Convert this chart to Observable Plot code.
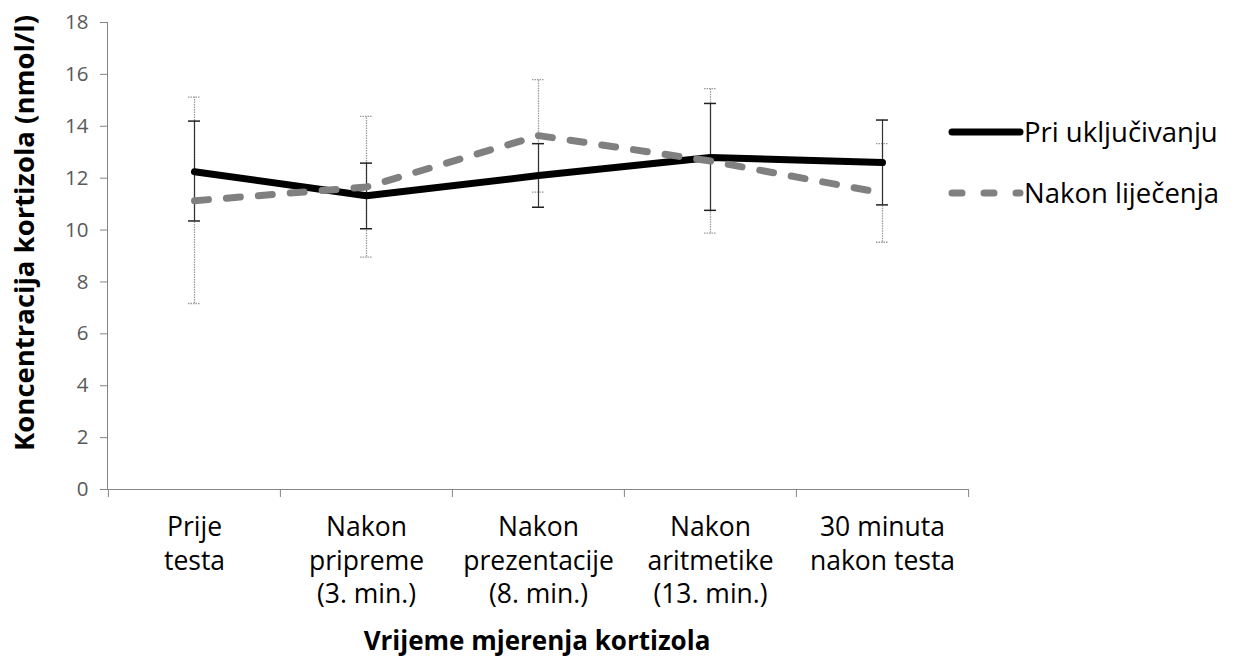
<!DOCTYPE html>
<html>
<head>
<meta charset="utf-8">
<script src="https://cdn.jsdelivr.net/npm/d3@7"></script>
<script src="https://cdn.jsdelivr.net/npm/@observablehq/plot@0.6"></script>
<style>
  html, body { margin: 0; padding: 0; background: #fff; }
  #wrap { position: relative; width: 1238px; height: 666px; font-family: "Open Sans", sans-serif; }
  #wrap svg.plot { position: absolute; left: 0; top: 0; }
  g[aria-label^="y-axis"] text { fill: #595959; }
  .ytitle { position: absolute; width: 520px; left: -236px; top: 216px; text-align: center;
            transform: rotate(-90deg); font-weight: bold; font-size: 27.5px; line-height: 34px; color: #000; }
  .xtitle { position: absolute; width: 500px; left: 287px; top: 624px; text-align: center;
            font-weight: bold; font-size: 26px; line-height: 32px; color: #000; }
  .legend { position: absolute; left: 946px; top: 0; }
  .item { position: absolute; left: 0; display: flex; align-items: center; white-space: nowrap;
          font-size: 27.5px; color: #000; }
</style>
</head>
<body>
<div id="wrap"></div>
<script>
// ---- data ----
const categories = ["Prije testa", "Nakon pripreme (3. min.)", "Nakon prezentacije (8. min.)", "Nakon aritmetike (13. min.)", "30 minuta nakon testa"];
const categoryLabels = ["Prije\ntesta", "Nakon\npripreme\n(3. min.)", "Nakon\nprezentacije\n(8. min.)", "Nakon\naritmetike\n(13. min.)", "30 minuta\nnakon testa"];
const seriesNames = ["Pri uključivanju", "Nakon liječenja"];
const priMean = [12.25, 11.32, 12.1, 12.8, 12.6];
const priLow  = [10.35, 10.05, 10.88, 10.76, 10.97];
const priHigh = [14.2, 12.58, 13.33, 14.88, 14.24];
const nakMean = [11.13, 11.66, 13.64, 12.66, 11.43];
const nakLow  = [7.17, 8.96, 11.46, 9.88, 9.53];
const nakHigh = [15.12, 14.38, 15.8, 15.45, 13.33];
const yTicks = [0, 2, 4, 6, 8, 10, 12, 14, 16, 18];

// ---- layout ----
const W = 1238, H = 666;
const mL = 107, mR = 270, mT = 22, mB = 177;
const half = (W - mL - mR) / categories.length / 2;

const pri = categories.map((c, i) => ({cat: c, mean: priMean[i], lo: priLow[i], hi: priHigh[i]}));
const nak = categories.map((c, i) => ({cat: c, mean: nakMean[i], lo: nakLow[i], hi: nakHigh[i]}));
const labelOf = new Map(categories.map((c, i) => [c, categoryLabels[i]]));

const axisGray = "#868686";
const chart = Plot.plot({
  width: W, height: H,
  marginLeft: mL, marginRight: mR, marginTop: mT, marginBottom: mB,
  style: {fontFamily: "Open Sans, sans-serif", fontSize: "20.5px", color: axisGray, background: "transparent"},
  x: {type: "point", domain: categories, padding: 0.5, axis: null},
  y: {domain: [0, 18], ticks: yTicks, tickSize: 7, tickPadding: 12, line: true, label: null},
  marks: [
    Plot.ruleY([0], {stroke: axisGray, strokeWidth: 1}),
    // category boundary ticks
    Plot.ruleX(categories, {x: d => d, y1: 0, y2: 0, dx: -half, insetBottom: -8, stroke: axisGray}),
    Plot.ruleX(categories.slice(-1), {x: d => d, y1: 0, y2: 0, dx: half, insetBottom: -8, stroke: axisGray}),
    // category labels
    Plot.text(categories, {x: d => d, y: 0, text: d => labelOf.get(d), lineAnchor: "top", dy: 22,
      lineHeight: 1.28, fontSize: 26.5, fill: "#000"}),
    // error bars – Nakon liječenja (gray dotted)
    Plot.ruleX(nak, {x: "cat", y1: "lo", y2: "hi", stroke: "#9a9a9a", strokeWidth: 1.3, strokeDasharray: "1.5,1"}),
    Plot.ruleY(nak, {x1: "cat", x2: "cat", y: "lo", insetLeft: -6, insetRight: -6, stroke: "#9a9a9a", strokeWidth: 1.3, strokeDasharray: "1.5,1"}),
    Plot.ruleY(nak, {x1: "cat", x2: "cat", y: "hi", insetLeft: -6, insetRight: -6, stroke: "#9a9a9a", strokeWidth: 1.3, strokeDasharray: "1.5,1"}),
    // error bars – Pri uključivanju (black)
    Plot.ruleX(pri, {x: "cat", y1: "lo", y2: "hi", stroke: "#333", strokeWidth: 1.2}),
    Plot.ruleY(pri, {x1: "cat", x2: "cat", y: "lo", insetLeft: -6, insetRight: -6, stroke: "#222", strokeWidth: 1.5}),
    Plot.ruleY(pri, {x1: "cat", x2: "cat", y: "hi", insetLeft: -6, insetRight: -6, stroke: "#222", strokeWidth: 1.5}),
    // lines
    Plot.line(pri, {x: "cat", y: "mean", stroke: "#000", strokeWidth: 7, strokeLinecap: "round", strokeLinejoin: "round"}),
    Plot.line(nak, {x: "cat", y: "mean", stroke: "#808080", strokeWidth: 7, strokeLinecap: "round", strokeLinejoin: "round", strokeDasharray: "14,18"})
  ]
});
chart.classList.add("plot");
const wrap = document.getElementById("wrap");
wrap.appendChild(chart);

const yt = document.createElement("div");
yt.className = "ytitle"; yt.textContent = "Koncentracija kortizola (nmol/l)";
wrap.appendChild(yt);
const xt = document.createElement("div");
xt.className = "xtitle"; xt.textContent = "Vrijeme mjerenja kortizola";
wrap.appendChild(xt);

const legend = document.createElement("div");
legend.className = "legend";
const swatches = [
  `<svg width="78" height="12"><line x1="6" y1="6" x2="74" y2="6" stroke="#000" stroke-width="7" stroke-linecap="round"/></svg>`,
  `<svg width="78" height="12"><line x1="6" y1="6" x2="74" y2="6" stroke="#808080" stroke-width="7" stroke-linecap="round" stroke-dasharray="10,22"/></svg>`
];
const legendY = [132, 193];
seriesNames.forEach((name, i) => {
  const it = document.createElement("div");
  it.className = "item";
  it.style.top = (legendY[i] - 18) + "px";
  it.innerHTML = swatches[i] + `<span style="line-height:36px">${name}</span>`;
  legend.appendChild(it);
});
wrap.appendChild(legend);
</script>
</body>
</html>
